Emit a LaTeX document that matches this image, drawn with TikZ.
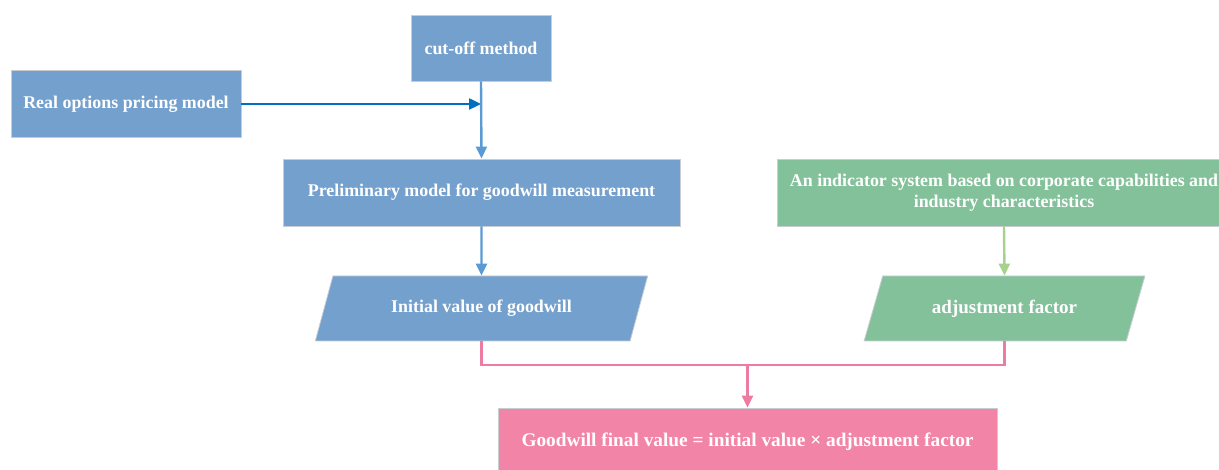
\documentclass[tikz,border=0pt]{standalone}
\usepackage{fontspec}
\setmainfont{Liberation Serif}
\usetikzlibrary{shapes.geometric,arrows.meta}
\definecolor{boxblue}{HTML}{74A0CD}
\definecolor{boxgreen}{HTML}{83C19B}
\definecolor{boxpink}{HTML}{F285A7}
\definecolor{edgegray}{HTML}{C8CDD2}
\definecolor{arrdark}{HTML}{0070C0}
\definecolor{arrblue}{HTML}{5B9BD5}
\definecolor{arrgreen}{HTML}{A9D18E}
\definecolor{arrpink}{HTML}{EE7BA2}
\begin{document}
\begin{tikzpicture}[x=1pt, y=-1pt,
    box/.style={draw=edgegray, line width=0.8pt, text=white, inner sep=2pt,
      font=\bfseries\fontsize{17.9}{21}\selectfont, align=center},
    slanted/.style={box, trapezium, trapezium left angle=62, trapezium right angle=118,
      trapezium stretches=true},
    big/.style={font=\bfseries\fontsize{19}{22}\selectfont},
    conn/.style={line width=2.4pt, -{Triangle[length=12pt,width=11pt]}}]

  \useasboundingbox (0,0) rectangle (1219,470);

  % obere Kaesten
  \node[box, fill=boxblue, minimum width=140, minimum height=66] (cutoff) at (481,48) {cut-off method};
  \node[box, fill=boxblue, minimum width=230, minimum height=67] (realopt) at (126,104) {Real options pricing model};
  \node[box, fill=boxblue, minimum width=397, minimum height=67] (prelim) at (481.5,192.5) {Preliminary model for goodwill measurement};
  \node[box, fill=boxgreen, minimum width=454, minimum height=67] (indicator) at (1004,192.5)
    {An indicator system based on corporate capabilities and\\industry characteristics};

  % Parallelogramme
  \node[slanted, fill=boxblue, minimum width=333, minimum height=65] (initial) at (481.5,308.5) {Initial value of goodwill};
  \node[slanted, big, fill=boxgreen, minimum width=281, minimum height=65] (adjust) at (1004.5,308.5) {adjustment factor};

  % Endwert
  \node[box, fill=boxpink, minimum width=499, minimum height=67, font=\bfseries\fontsize{19.3}{22}\selectfont]
    (final) at (747.5,441.5) {Goodwill final value = initial value × adjustment factor};

  % Pfeile links
  \coordinate (join) at (cutoff.south |- realopt.east);
  \draw[conn, arrdark] (realopt.east) -- (join);
  \draw[conn, arrblue] (cutoff.south) -- (prelim.north);
  \draw[conn, arrblue] (prelim.south) -- (initial.north);

  % Pfeil rechts
  \draw[conn, arrgreen] (indicator.south) -- (adjust.north);

  % Zusammenfuehrung
  \coordinate (merge) at (final.north |- 0,365);
  \draw[arrpink, line width=2.4pt] (initial.south) |- (merge) -| (adjust.south);
  \draw[conn, arrpink] (merge) -- (final.north);

\end{tikzpicture}
\end{document}
